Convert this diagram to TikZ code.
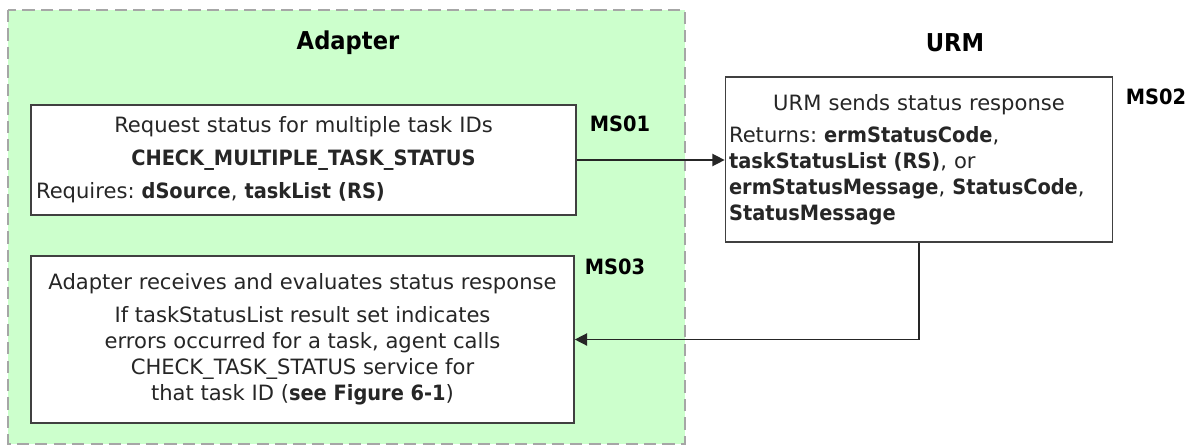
\documentclass[tikz,border=0pt]{standalone}
\usepackage{fontspec}
\setmainfont{DejaVu Sans}[BoldFeatures={FakeStretch=0.92}]
\usetikzlibrary{arrows.meta}

\definecolor{adaptergreen}{HTML}{CCFFCC}
\definecolor{lanegray}{HTML}{A6A6A6}

\frenchspacing

\begin{document}
\begin{tikzpicture}[x=0.02cm, y=-0.02cm,
    msgbox/.style={rectangle, draw=black!75, line width=1pt, fill=white, inner sep=2pt,
                   font=\fontsize{12}{14.75}\selectfont, text=black!85},
    msgtag/.style={font=\fontsize{12}{14}\selectfont\bfseries},
    lanetitle/.style={font=\fontsize{14}{16}\selectfont\bfseries},
    arrow/.style={-{Triangle[length=7pt, width=7pt]}, line width=0.8pt, draw=black!85}
]
    \useasboundingbox (0,0) rectangle (1201,447);

    % adapter swimlane
    \draw[draw=lanegray, fill=adaptergreen, line width=1.1pt, dash pattern=on 7pt off 3.5pt]
        (8,10) rectangle (685,444);
    \node[lanetitle] (adaptertitle) at (348,43) {Adapter};
    \node[lanetitle] (urmtitle)     at (955,43) {URM};

    \node[msgbox, minimum width=10.9cm, minimum height=2.2cm, text width=10.7cm] (ms01) at (303.5,160)
        {\centering Request status for multiple task IDs\\[4pt]
         \textbf{CHECK\_MULTIPLE\_TASK\_STATUS}\par\vskip 4pt
         \raggedright Requires: \textbf{dSource}, \textbf{taskList (RS)}};
    \node[msgbox, minimum width=7.68cm, minimum height=3.3cm, text width=7.6cm] (ms02) at (919,159.5)
        {\centering URM sends status response\par\vskip 3.5pt
         \raggedright Returns: \textbf{ermStatusCode},\\
         \textbf{taskStatusList (RS)}, or\\
         \textbf{ermStatusMessage}, \textbf{StatusCode},\\
         \textbf{StatusMessage}};
    \node[msgbox, minimum width=10.86cm, minimum height=3.34cm, align=center] (ms03) at (302.5,339.5)
        {Adapter receives and evaluates status response\\[4pt]
         If taskStatusList result set indicates\\
         errors occurred for a task, agent calls\\
         CHECK\_TASK\_STATUS service for\\
         that task ID (\textbf{see Figure 6-1})};

    \node[msgtag] (ms01tag) at (620,124)  {MS01};
    \node[msgtag] (ms02tag) at (1156,97)  {MS02};
    \node[msgtag] (ms03tag) at (615,267)  {MS03};

    \draw[arrow] (ms01.east) -- (ms01.east -| ms02.west);
    \draw[arrow] (ms02.south) |- (ms03.east);
\end{tikzpicture}
\end{document}
